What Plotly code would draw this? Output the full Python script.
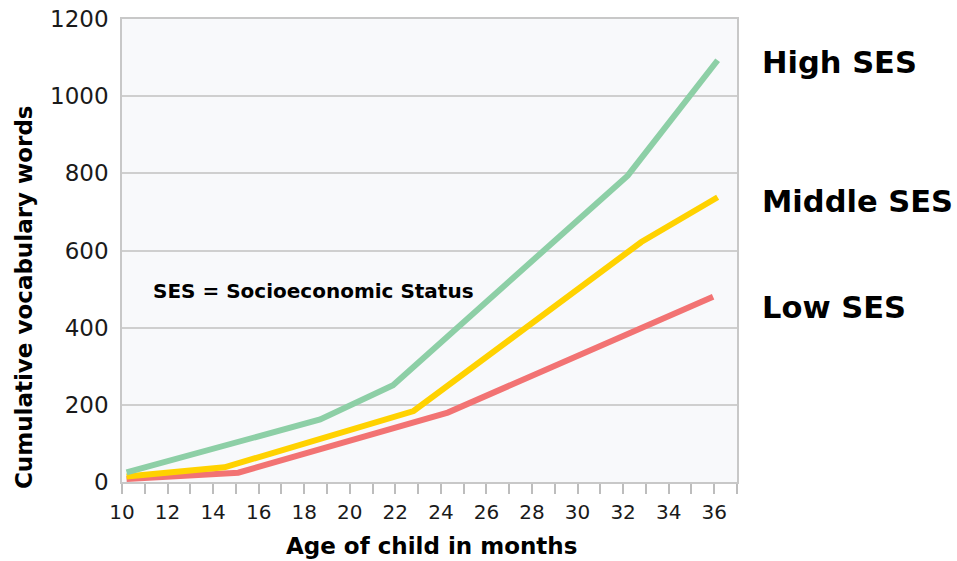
import plotly.graph_objects as go

# Age (months) and cumulative vocabulary for each socioeconomic group
high_age = [10.2, 18.7, 21.9, 32.2, 36.15]
high_words = [25, 162, 251, 794, 1093]

middle_age = [10.2, 14.5, 22.8, 32.8, 36.15]
middle_words = [14, 38, 184, 622, 738]

low_age = [10.2, 15.1, 24.3, 35.95]
low_words = [8, 24, 180, 480]

x_tick_vals = list(range(10, 37, 2))
y_tick_vals = [0, 200, 400, 600, 800, 1000, 1200]

group_labels = ["High SES", "Middle SES", "Low SES"]
group_label_y = [1088, 728, 451]

GREEN = "#8DCFA6"
YELLOW = "#FFD200"
RED = "#F27373"
FONT = "DejaVu Sans"

fig = go.Figure()
for ages, words, color in [
    (low_age, low_words, RED),
    (middle_age, middle_words, YELLOW),
    (high_age, high_words, GREEN),
]:
    fig.add_trace(go.Scatter(x=ages, y=words, mode="lines",
                             line=dict(color=color, width=6),
                             showlegend=False, hoverinfo="skip"))

# Group names to the right of the line ends
for text, yv in zip(group_labels, group_label_y):
    fig.add_annotation(x=1.038, xref="paper", y=yv, yref="y", text=text,
                       showarrow=False, xanchor="left", yanchor="middle",
                       font=dict(family=FONT, size=30.5, color="#000000", weight=700))

fig.add_annotation(x=0.047, xref="paper", y=495, yref="y",
                   text="SES = Socioeconomic Status", showarrow=False,
                   xanchor="left", yanchor="middle",
                   font=dict(family=FONT, size=20, color="#000000", weight=700))

# Axis titles
fig.add_annotation(x=0.504, xref="paper", y=-0.139, yref="paper",
                   text="Age of child in months", showarrow=False,
                   xanchor="center", yanchor="middle",
                   font=dict(family=FONT, size=23, color="#000000", weight=700))
fig.add_annotation(x=-0.159, xref="paper", y=0.40, yref="paper",
                   text="Cumulative vocabulary words", showarrow=False,
                   textangle=-90, xanchor="center", yanchor="middle",
                   font=dict(family=FONT, size=23, color="#000000", weight=700))

fig.update_layout(
    width=957, height=561,
    margin=dict(l=122, r=220, t=19, b=79),
    paper_bgcolor="#FFFFFF",
    plot_bgcolor="#F8F9FB",
    font=dict(family=FONT, color="#000000"),
)

fig.update_xaxes(
    range=[10, 37], automargin=False,
    tickvals=x_tick_vals,
    ticks="outside", ticklen=10, tickwidth=1.5, tickcolor="#BDBDBD",
    ticklabelstandoff=1,
    minor=dict(dtick=1, tick0=10, ticks="outside", ticklen=10,
               tickwidth=1.5, tickcolor="#BDBDBD"),
    showgrid=False, zeroline=False,
    showline=True, mirror=True, linecolor="#C8C8C8", linewidth=1.5,
    tickfont=dict(family=FONT, size=20, color="#1A1A1A"),
)

fig.update_yaxes(
    range=[0, 1200], automargin=False,
    tickvals=y_tick_vals,
    ticks="", ticklabelstandoff=7,
    showgrid=True, gridcolor="#CFCFCF", gridwidth=1.5,
    zeroline=False,
    showline=True, mirror=True, linecolor="#C8C8C8", linewidth=1.5,
    tickfont=dict(family=FONT, size=23, color="#1A1A1A"),
)

fig.write_html("out.html")
